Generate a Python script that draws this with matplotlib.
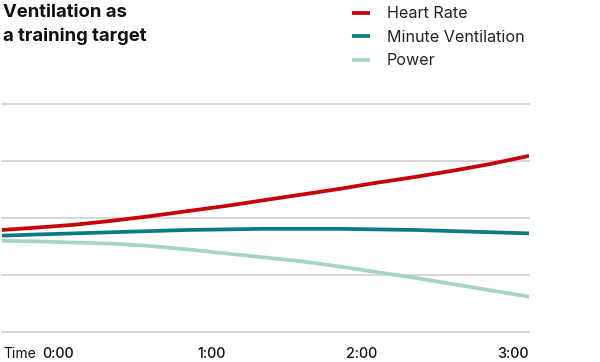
import matplotlib
matplotlib.use("Agg")
import matplotlib.pyplot as plt

plt.rcParams['font.family'] = ['Inter', 'DejaVu Sans']

time_min = [-0.47, -0.25, 0, 0.25, 0.5, 0.75, 1, 1.25, 1.5, 1.75, 2, 2.25, 2.5, 2.75, 3]
heart_rate = [1.79, 1.83, 1.88, 1.95, 2.03, 2.12, 2.21, 2.31, 2.41, 2.51, 2.62, 2.72, 2.83, 2.95, 3.09]
minute_vent = [1.69, 1.71, 1.73, 1.75, 1.77, 1.79, 1.80, 1.81, 1.81, 1.81, 1.80, 1.79, 1.77, 1.75, 1.73]
power = [1.60, 1.59, 1.57, 1.55, 1.51, 1.45, 1.38, 1.31, 1.24, 1.15, 1.05, 0.95, 0.84, 0.73, 0.62]
tick_vals = [0, 1, 2, 3]
tick_labels = ["0:00", "1:00", "2:00", "3:00"]
series_names = ["Heart Rate", "Minute Ventilation", "Power"]
colors = ["#c8000a", "#0b7b86", "#a6d4c4"]

W, H = 600, 362
fig = plt.figure(figsize=(W/100, H/100), dpi=100)
ax = fig.add_axes([2/W, 1-332/H, (529-2)/W, (332-104)/H])
ax.set_xlim(time_min[0], time_min[-1])
ax.set_ylim(0, 4)

for y in [0, 1, 2, 3, 4]:
    ax.axhline(y, color="#cccccc", lw=1.1, zorder=1, clip_on=False)

for vals, c, name in zip([heart_rate, minute_vent, power], colors, series_names):
    ax.plot(time_min, vals, color=c, lw=2.7, solid_capstyle='butt', label=name, zorder=3)

for s in ax.spines.values():
    s.set_visible(False)
ax.set_yticks([])
ax.set_xticks(tick_vals)
ax.set_xticklabels(tick_labels, ha='right', fontsize=10.3, fontweight='medium', color='#111111')
ax.tick_params(axis='x', length=0, pad=11)
fig.text(3/W, 1-357.5/H, "Time", fontsize=10, color='#111111', va='baseline', ha='left')

fig.text(3/W, 1-4/H, "Ventilation as\na training target", fontsize=13.3, fontweight='bold',
         va='top', ha='left', color='#111111', linespacing=1.45)

fig.legend(loc='upper left', bbox_to_anchor=(337/W, 1+8/H), frameon=False, fontsize=11.6,
           handlelength=1.15, handletextpad=1.05, labelspacing=0.52, labelcolor='#222222')

fig.savefig("out.png", dpi=100)
